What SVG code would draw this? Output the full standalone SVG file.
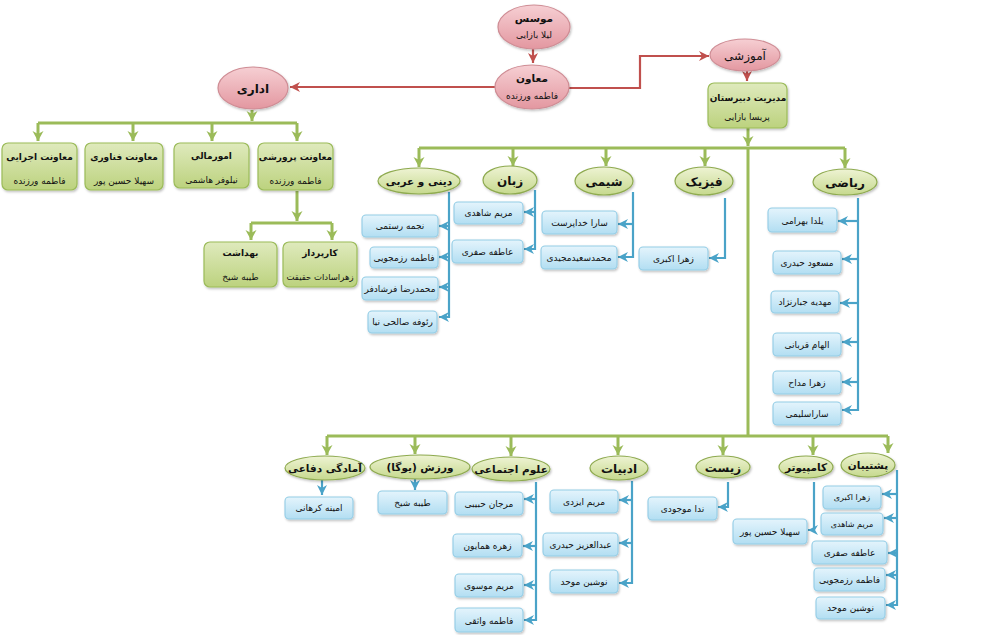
<svg xmlns="http://www.w3.org/2000/svg" width="1000" height="635" viewBox="0 0 1000 635">
<style>
text{font-family:"DejaVu Sans","Noto Sans",sans-serif;fill:#111;text-anchor:middle;direction:rtl}
.t{font-size:10.5px;font-weight:bold}
.tb{font-size:9px;font-weight:bold}
.tl{font-size:12px;font-weight:bold}
.n{font-size:9px}
.pink{fill:url(#gPink);stroke:#cf8d95;stroke-width:1.2}
.gbox{fill:url(#gGreenBox);stroke:#9bbb59;stroke-width:1.2}
.gell{fill:url(#gGreenEll);stroke:#8eaa4f;stroke-width:1.2}
.bbox{fill:url(#gBlue);stroke:#93cde6;stroke-width:1.1}
.cr{fill:none;stroke:#c0504d;stroke-width:2.2}
.cg{fill:none;stroke:#9bbb59;stroke-width:3}
.cb{fill:none;stroke:#4aa3c8;stroke-width:2.2}
.sh{filter:url(#sh)}
</style>
<defs>
<linearGradient id="gPink" x1="0" y1="0" x2="0" y2="1"><stop offset="0" stop-color="#f6cfd3"/><stop offset="1" stop-color="#e397a0"/></linearGradient>
<linearGradient id="gGreenBox" x1="0" y1="0" x2="0" y2="1"><stop offset="0" stop-color="#dfeabd"/><stop offset="1" stop-color="#bcd27e"/></linearGradient>
<linearGradient id="gGreenEll" x1="0" y1="0" x2="0" y2="1"><stop offset="0" stop-color="#eef3d3"/><stop offset="1" stop-color="#c6d98e"/></linearGradient>
<linearGradient id="gBlue" x1="0" y1="0" x2="0" y2="1"><stop offset="0" stop-color="#e4f4fc"/><stop offset="1" stop-color="#b2def2"/></linearGradient>
<filter id="sh" x="-10%" y="-10%" width="125%" height="130%"><feDropShadow dx="1" dy="1.5" stdDeviation="1" flood-color="#000" flood-opacity="0.25"/></filter>
<marker id="aR" markerUnits="userSpaceOnUse" markerWidth="12" markerHeight="12" refX="10" refY="6" orient="auto"><path d="M0,1 L10,6 L0,11 L3,6 Z" fill="#c0504d"/></marker>
<marker id="aG" markerUnits="userSpaceOnUse" markerWidth="12" markerHeight="12" refX="10" refY="6" orient="auto"><path d="M0,0.5 L10,6 L0,11.5 L3,6 Z" fill="#9bbb59"/></marker>
<marker id="aB" markerUnits="userSpaceOnUse" markerWidth="12" markerHeight="12" refX="10" refY="6" orient="auto"><path d="M0,1 L10,6 L0,11 L3,6 Z" fill="#4aa3c8"/></marker>
</defs>
<rect width="1000" height="635" fill="#fff"/>

<g id="connectors">
<path class="cr" d="M533,49 V63" marker-end="url(#aR)"/>
<path class="cr" d="M495,87 H290" marker-end="url(#aR)"/>
<path class="cr" d="M569,88 H640 V56 H709" marker-end="url(#aR)"/>
<path class="cr" d="M747,71 V81" marker-end="url(#aR)"/>
<path class="cg" d="M252,110 V121" marker-end="url(#aG)"/>
<path class="cg" d="M38,123 H297"/>
<path class="cg" d="M38,123 V141" marker-end="url(#aG)"/>
<path class="cg" d="M133,123 V141" marker-end="url(#aG)"/>
<path class="cg" d="M212,123 V141" marker-end="url(#aG)"/>
<path class="cg" d="M297,123 V141" marker-end="url(#aG)"/>
<path class="cg" d="M297,191 V221" marker-end="url(#aG)"/>
<path class="cg" d="M251,223 H332"/>
<path class="cg" d="M251,223 V240" marker-end="url(#aG)"/>
<path class="cg" d="M332,223 V240" marker-end="url(#aG)"/>
<path class="cg" d="M748,128 V146" marker-end="url(#aG)"/>
<path class="cg" d="M419,148 H845"/>
<path class="cg" d="M419,148 V167" marker-end="url(#aG)"/>
<path class="cg" d="M513,148 V166" marker-end="url(#aG)"/>
<path class="cg" d="M606,148 V166" marker-end="url(#aG)"/>
<path class="cg" d="M705,148 V166" marker-end="url(#aG)"/>
<path class="cg" d="M845,148 V168" marker-end="url(#aG)"/>
<path class="cg" d="M748,148 V436"/>
<path class="cg" d="M327,436 H888"/>
<path class="cg" d="M327,436 V455" marker-end="url(#aG)"/>
<path class="cg" d="M415,436 V454" marker-end="url(#aG)"/>
<path class="cg" d="M511,436 V456" marker-end="url(#aG)"/>
<path class="cg" d="M618,436 V455" marker-end="url(#aG)"/>
<path class="cg" d="M723,436 V455" marker-end="url(#aG)"/>
<path class="cg" d="M813,436 V455" marker-end="url(#aG)"/>
<path class="cg" d="M888,436 V453" marker-end="url(#aG)"/>
<path class="cb" d="M449,192 V317 H439" marker-end="url(#aB)"/>
<path class="cb" d="M449,226 H439" marker-end="url(#aB)"/>
<path class="cb" d="M449,257 H439" marker-end="url(#aB)"/>
<path class="cb" d="M449,287 H439" marker-end="url(#aB)"/>
<path class="cb" d="M535,190 V249 H524" marker-end="url(#aB)"/>
<path class="cb" d="M535,212 H524" marker-end="url(#aB)"/>
<path class="cb" d="M633,192 V257 H618" marker-end="url(#aB)"/>
<path class="cb" d="M633,224 H618" marker-end="url(#aB)"/>
<path class="cb" d="M725,198 V258 H709" marker-end="url(#aB)"/>
<path class="cb" d="M858,198 V410 H842" marker-end="url(#aB)"/>
<path class="cb" d="M858,221 H838" marker-end="url(#aB)"/>
<path class="cb" d="M858,259 H842" marker-end="url(#aB)"/>
<path class="cb" d="M858,303 H840" marker-end="url(#aB)"/>
<path class="cb" d="M858,342 H842" marker-end="url(#aB)"/>
<path class="cb" d="M858,382 H842" marker-end="url(#aB)"/>
<path class="cb" d="M322,480 V495" marker-end="url(#aB)"/>
<path class="cb" d="M415,479 V490" marker-end="url(#aB)"/>
<path class="cb" d="M536,482 V620 H524" marker-end="url(#aB)"/>
<path class="cb" d="M536,499 H524" marker-end="url(#aB)"/>
<path class="cb" d="M536,546 H523" marker-end="url(#aB)"/>
<path class="cb" d="M536,585 H524" marker-end="url(#aB)"/>
<path class="cb" d="M632,481 V583 H619" marker-end="url(#aB)"/>
<path class="cb" d="M632,500 H619" marker-end="url(#aB)"/>
<path class="cb" d="M632,543 H619" marker-end="url(#aB)"/>
<path class="cb" d="M728,482 V507 H718" marker-end="url(#aB)"/>
<path class="cb" d="M814,482 V530 H808" marker-end="url(#aB)"/>
<path class="cb" d="M897,470 V605 H886" marker-end="url(#aB)"/>
<path class="cb" d="M897,494 H882" marker-end="url(#aB)"/>
<path class="cb" d="M897,518 H884" marker-end="url(#aB)"/>
<path class="cb" d="M897,553 H888" marker-end="url(#aB)"/>
<path class="cb" d="M897,575 H886" marker-end="url(#aB)"/>
</g>

<g id="n-founder"><ellipse class="pink sh" cx="534" cy="27" rx="36" ry="22"/><text class="t" x="534" y="22">موسس</text><text class="n" x="534" y="38">لیلا بازایی</text></g>
<g id="n-deputy"><ellipse class="pink sh" cx="532" cy="87" rx="37" ry="22"/><text class="t" x="532" y="82">معاون</text><text class="n" x="532" y="99">فاطمه ورزنده</text></g>
<g id="n-amoozeshi"><ellipse class="pink sh" cx="745" cy="55" rx="35" ry="16"/><text class="tl" x="745" y="60" style="font-weight:normal">آموزشی</text></g>
<g id="n-edari"><ellipse class="pink sh" cx="253" cy="88" rx="35" ry="21"/><text class="tl" x="253" y="93">اداری</text></g>

<g id="n-modiriat"><rect class="gbox sh" x="708" y="83" width="79" height="45" rx="6"/><text class="tb" x="748" y="101">مدیریت دبیرستان</text><text class="n" x="747" y="120">پریسا بازایی</text></g>
<g id="n-ejraei"><rect class="gbox sh" x="2" y="143" width="75" height="47" rx="6"/><text class="tb" x="39.5" y="160">معاونت اجرایی</text><text class="n" x="39.5" y="184">فاطمه ورزنده</text></g>
<g id="n-fanavari"><rect class="gbox sh" x="85" y="143" width="78" height="47" rx="6"/><text class="tb" x="124" y="160">معاونت فناوری</text><text class="n" x="124" y="184">سهیلا حسین پور</text></g>
<g id="n-omoormali"><rect class="gbox sh" x="174" y="143" width="75" height="45" rx="6"/><text class="tb" x="211.5" y="159">امورمالی</text><text class="n" x="211.5" y="183">نیلوفر هاشمی</text></g>
<g id="n-parvaresh"><rect class="gbox sh" x="258" y="143" width="75" height="47" rx="6"/><text class="tb" x="295.5" y="160">معاونت پرورشی</text><text class="n" x="295.5" y="184">فاطمه ورزنده</text></g>
<g id="n-behdasht"><rect class="gbox sh" x="204" y="242" width="73" height="45" rx="6"/><text class="tb" x="240.5" y="256">بهداشت</text><text class="n" x="240.5" y="280">طیبه شیخ</text></g>
<g id="n-karpardaz"><rect class="gbox sh" x="283" y="242" width="74" height="45" rx="6"/><text class="tb" x="320" y="256">کارپرداز</text><text class="n" x="320" y="280" style="font-size:8.5px">زهراسادات حقیقت</text></g>

<g id="n-dini"><ellipse class="gell sh" cx="419" cy="181" rx="41" ry="13"/><text class="t" x="419" y="185">دینی و عربی</text></g>
<g id="n-zaban"><ellipse class="gell sh" cx="510" cy="180" rx="27" ry="14"/><text class="tl" x="510" y="185">زبان</text></g>
<g id="n-shimi"><ellipse class="gell sh" cx="604" cy="181" rx="29" ry="14"/><text class="tl" x="604" y="186">شیمی</text></g>
<g id="n-fizik"><ellipse class="gell sh" cx="704" cy="181" rx="29" ry="14"/><text class="tl" x="704" y="186">فیزیک</text></g>
<g id="n-riazi"><ellipse class="gell sh" cx="845" cy="182" rx="32" ry="13"/><text class="tl" x="845" y="187">ریاضی</text></g>

<g id="n-amadegi"><ellipse class="gell sh" cx="325" cy="468" rx="40" ry="12"/><text class="t" x="325" y="472">آمادگی دفاعی</text></g>
<g id="n-varzesh"><ellipse class="gell sh" cx="420" cy="467" rx="50" ry="12"/><text class="t" x="420" y="471">ورزش (یوگا)</text></g>
<g id="n-oloom"><ellipse class="gell sh" cx="511" cy="469" rx="39" ry="12"/><text class="t" x="511" y="473">علوم اجتماعی</text></g>
<g id="n-adabiat"><ellipse class="gell sh" cx="619" cy="468" rx="29" ry="12"/><text class="tl" x="619" y="473">ادبیات</text></g>
<g id="n-zist"><ellipse class="gell sh" cx="723" cy="467" rx="27" ry="11"/><text class="tl" x="723" y="472">زیست</text></g>
<g id="n-computer"><ellipse class="gell sh" cx="806" cy="467" rx="27" ry="11"/><text class="t" x="806" y="471">کامپیوتر</text></g>
<g id="n-poshtiban"><ellipse class="gell sh" cx="868" cy="465" rx="27" ry="12"/><text class="t" x="868" y="469">پشتیبان</text></g>

<g id="b-dini-1"><rect class="bbox sh" x="362" y="215" width="76" height="22" rx="4"/><text class="n" x="400" y="229">نجمه رستمی</text></g>
<g id="b-dini-2"><rect class="bbox sh" x="370" y="247" width="68" height="21" rx="4"/><text class="n" x="404" y="261">فاطمه رزمجویی</text></g>
<g id="b-dini-3"><rect class="bbox sh" x="362" y="277" width="76" height="23" rx="4"/><text class="n" x="400" y="292">محمدرضا فرشادفر</text></g>
<g id="b-dini-4"><rect class="bbox sh" x="368" y="311" width="69" height="22" rx="4"/><text class="n" x="402.5" y="325">رئوفه صالحی نیا</text></g>
<g id="b-zaban-1"><rect class="bbox sh" x="454" y="202" width="69" height="22" rx="4"/><text class="n" x="488.5" y="216">مریم شاهدی</text></g>
<g id="b-zaban-2"><rect class="bbox sh" x="452" y="240" width="71" height="23" rx="4"/><text class="n" x="487.5" y="255">عاطفه صفری</text></g>
<g id="b-shimi-1"><rect class="bbox sh" x="542" y="211" width="75" height="23" rx="4"/><text class="n" x="579.5" y="226">سارا خداپرست</text></g>
<g id="b-shimi-2"><rect class="bbox sh" x="541" y="246" width="76" height="23" rx="4"/><text class="n" x="579" y="261">محمدسعیدمجیدی</text></g>
<g id="b-fizik-1"><rect class="bbox sh" x="639" y="247" width="69" height="23" rx="4"/><text class="n" x="673.5" y="262">زهرا اکبری</text></g>
<g id="b-riazi-1"><rect class="bbox sh" x="768" y="208" width="69" height="24" rx="4"/><text class="n" x="802.5" y="224">یلدا بهرامی</text></g>
<g id="b-riazi-2"><rect class="bbox sh" x="773" y="251" width="68" height="23" rx="4"/><text class="n" x="807" y="266">مسعود حیدری</text></g>
<g id="b-riazi-3"><rect class="bbox sh" x="771" y="291" width="68" height="22" rx="4"/><text class="n" x="805" y="305">مهدیه جبارنژاد</text></g>
<g id="b-riazi-4"><rect class="bbox sh" x="773" y="333" width="68" height="23" rx="4"/><text class="n" x="807" y="348">الهام قربانی</text></g>
<g id="b-riazi-5"><rect class="bbox sh" x="773" y="371" width="68" height="23" rx="4"/><text class="n" x="807" y="386">زهرا مداح</text></g>
<g id="b-riazi-6"><rect class="bbox sh" x="773" y="402" width="68" height="23" rx="4"/><text class="n" x="807" y="417">ساراسلیمی</text></g>

<g id="b-amadegi-1"><rect class="bbox sh" x="285" y="497" width="68" height="22" rx="4"/><text class="n" x="319" y="511">امینه کرهانی</text></g>
<g id="b-varzesh-1"><rect class="bbox sh" x="378" y="491" width="69" height="23" rx="4"/><text class="n" x="412.5" y="506">طیبه شیخ</text></g>
<g id="b-oloom-1"><rect class="bbox sh" x="455" y="492" width="68" height="23" rx="4"/><text class="n" x="489" y="507">مرجان حبیبی</text></g>
<g id="b-oloom-2"><rect class="bbox sh" x="453" y="534" width="69" height="23" rx="4"/><text class="n" x="487.5" y="549">زهره همایون</text></g>
<g id="b-oloom-3"><rect class="bbox sh" x="455" y="574" width="68" height="23" rx="4"/><text class="n" x="489" y="589">مریم موسوی</text></g>
<g id="b-oloom-4"><rect class="bbox sh" x="455" y="608" width="68" height="24" rx="4"/><text class="n" x="489" y="624">فاطمه واثقی</text></g>
<g id="b-adabiat-1"><rect class="bbox sh" x="550" y="490" width="68" height="23" rx="4"/><text class="n" x="584" y="505">مریم ایزدی</text></g>
<g id="b-adabiat-2"><rect class="bbox sh" x="543" y="533" width="75" height="23" rx="4"/><text class="n" x="580.5" y="548">عبدالعزیز حیدری</text></g>
<g id="b-adabiat-3"><rect class="bbox sh" x="550" y="570" width="68" height="23" rx="4"/><text class="n" x="584" y="585">نوشین موحد</text></g>
<g id="b-zist-1"><rect class="bbox sh" x="648" y="497" width="69" height="23" rx="4"/><text class="n" x="682.5" y="512">ندا موجودی</text></g>
<g id="b-computer-1"><rect class="bbox sh" x="733" y="519" width="74" height="25" rx="4"/><text class="n" x="770" y="535">سهیلا حسین پور</text></g>
<g id="b-posht-1"><rect class="bbox sh" x="823" y="486" width="58" height="23" rx="4"/><text class="n" x="852" y="500" style="font-size:8px">زهرا اکبری</text></g>
<g id="b-posht-2"><rect class="bbox sh" x="821" y="513" width="62" height="22" rx="4"/><text class="n" x="852" y="527" style="font-size:8px">مریم شاهدی</text></g>
<g id="b-posht-3"><rect class="bbox sh" x="812" y="541" width="75" height="23" rx="4"/><text class="n" x="849.5" y="556">عاطفه صفری</text></g>
<g id="b-posht-4"><rect class="bbox sh" x="814" y="568" width="71" height="23" rx="4"/><text class="n" x="849.5" y="583">فاطمه رزمجویی</text></g>
<g id="b-posht-5"><rect class="bbox sh" x="816" y="597" width="69" height="22" rx="4"/><text class="n" x="850.5" y="611">نوشین موحد</text></g>
</svg>
